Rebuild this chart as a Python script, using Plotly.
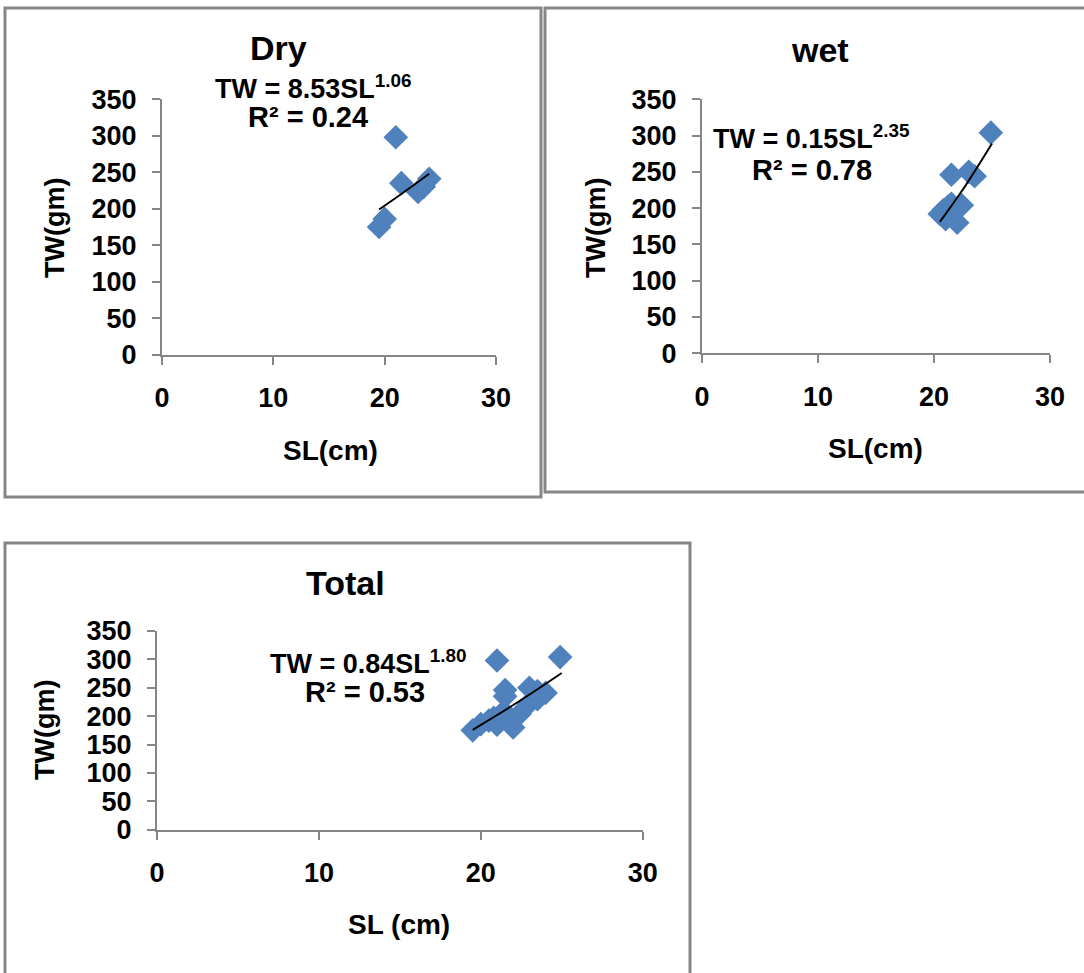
import plotly.graph_objects as go

# ---------------- data ----------------
dry_sl = [19.5, 20.0, 21.0, 21.5, 23.0, 23.5, 24.0]
dry_tw = [175, 186, 298, 235, 223, 230, 241]

wet_sl = [20.5, 20.8, 21.0, 21.2, 21.5, 22.0, 22.4, 21.5, 23.0, 23.5, 24.9]
wet_tw = [192, 197, 185, 202, 206, 180, 204, 246, 250, 244, 304]

total_sl = dry_sl + wet_sl
total_tw = dry_tw + wet_tw

# trendline points
dry_fit_sl = [19.5, 21.75, 24.0]
dry_fit_tw = [199, 223, 248]
wet_fit_sl = [20.5, 22.75, 25.0]
wet_fit_tw = [181, 232, 289]
total_fit_sl = [19.5, 22.25, 25.0]
total_fit_tw = [176, 224, 276]

titles = ["Dry", "wet", "Total"]
equations = ["TW = 8.53SL<sup>1.06</sup>", "TW = 0.15SL<sup>2.35</sup>", "TW = 0.84SL<sup>1.80</sup>"]
r2_texts = ["R² = 0.24", "R² = 0.78", "R² = 0.53"]
x_titles = ["SL(cm)", "SL(cm)", "SL (cm)"]
y_title = "TW(gm)"

x_ticks = [0, 10, 20, 30]
y_ticks = [0, 50, 100, 150, 200, 250, 300, 350]

# ---------------- layout helpers ----------------
W, H = 1084, 973


def px(x, y):
    return x / W, 1 - y / H


BLUE = "#4F81BD"
GRAY = "#868686"
BOLD = dict(family="Arial", color="black", weight="bold")

fig = go.Figure()

series = [
    (dry_sl, dry_tw, dry_fit_sl, dry_fit_tw, "x", "y"),
    (wet_sl, wet_tw, wet_fit_sl, wet_fit_tw, "x2", "y2"),
    (total_sl, total_tw, total_fit_sl, total_fit_tw, "x3", "y3"),
]
for sx, sy, fx, fy, xa, ya in series:
    fig.add_trace(go.Scatter(x=sx, y=sy, mode="markers", xaxis=xa, yaxis=ya,
                             marker=dict(symbol="diamond", size=19, color=BLUE,
                                         line=dict(width=0)),
                             showlegend=False, hoverinfo="skip"))
    fig.add_trace(go.Scatter(x=fx, y=fy, mode="lines", xaxis=xa, yaxis=ya,
                             line=dict(color="black", width=2, shape="spline"),
                             showlegend=False, hoverinfo="skip"))

# plot-area pixel boxes: (left, right, top, bottom)
boxes = [
    (162, 496, 99.3, 354.7),
    (702, 1050, 99.3, 353.3),
    (157, 642.7, 631, 829.7),
]

axis_common = dict(showgrid=False, zeroline=False, showline=True, linecolor=GRAY,
                   linewidth=2, ticks="outside", ticklen=8, tickwidth=2, tickcolor=GRAY,
                   tickfont=dict(size=27, **BOLD), fixedrange=True)

layout_axes = {}
for i, (l, r, t, b) in enumerate(boxes):
    sfx = "" if i == 0 else str(i + 1)
    xl, yb = px(l, b)
    xr, yt = px(r, t)
    layout_axes["xaxis" + sfx] = dict(
        domain=[xl, xr], range=[0, 30], tickvals=x_ticks,
        anchor="y" + sfx, ticklabelstandoff=10, **axis_common)
    layout_axes["yaxis" + sfx] = dict(
        domain=[yb, yt], range=[0, 350], tickvals=y_ticks,
        anchor="x" + sfx, ticklabelstandoff=10, **axis_common)

fig.update_layout(width=W, height=H,
                  margin=dict(l=0, r=0, t=0, b=0, pad=0, autoexpand=False),
                  paper_bgcolor="white", plot_bgcolor="white", **layout_axes)

# panel borders
borders = [(5, 8, 541, 497), (545, 8, 1100, 492), (5, 543, 690, 990)]
for x0, y0, x1, y1 in borders:
    a0 = px(x0, y0)
    a1 = px(x1, y1)
    fig.add_shape(type="rect", xref="paper", yref="paper", x0=a0[0], y0=a1[1],
                  x1=a1[0], y1=a0[1], line=dict(color=GRAY, width=3))

annots = []


def add_text(text, x, y, size, angle=0):
    ax, ay = px(x, y)
    annots.append(dict(text=text, x=ax, y=ay, xref="paper", yref="paper",
                       xanchor="center", yanchor="middle", showarrow=False,
                       textangle=angle, font=dict(size=size, **BOLD)))


title_pos = [(278, 48), (820, 50), (345, 583)]
eq_pos = [(313, 87), (811, 137), (368, 662)]
r2_pos = [(308, 117), (812, 170), (365, 692)]
xt_pos = [(330, 450), (875, 448), (399, 924)]
yt_pos = [(55, 228), (596, 228), (45, 730)]

for i in range(3):
    add_text(titles[i], *title_pos[i], 34)
    add_text(equations[i], *eq_pos[i], 27)
    add_text(r2_texts[i], *r2_pos[i], 29)
    add_text(x_titles[i], *xt_pos[i], 28)
    add_text(y_title, *yt_pos[i], 27, angle=-90)

fig.update_layout(annotations=annots)
fig.write_html("out.html", config={"displayModeBar": False},
               post_script="document.body.style.margin='0px';document.body.style.overflow='hidden';")
